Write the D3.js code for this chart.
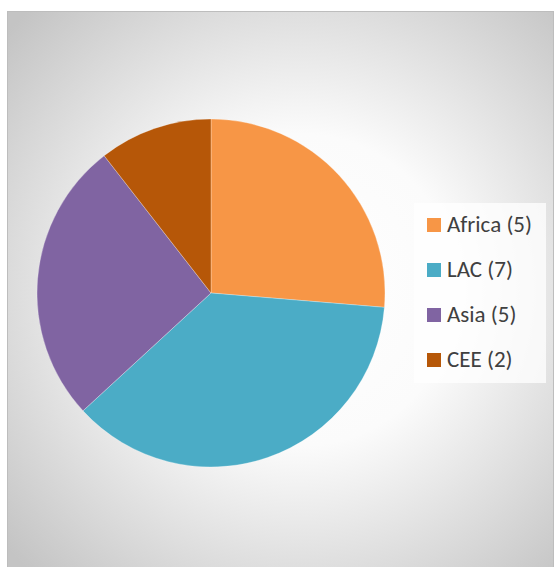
<!DOCTYPE html>
<html>
<head>
<meta charset="utf-8">
<script src="https://cdn.jsdelivr.net/npm/d3@7.9.0/dist/d3.min.js"></script>
<style>
  body { margin: 0; background: #fff; }
  svg { display: block; }
</style>
</head>
<body>
<svg width="555" height="567"></svg>
<script>
// data
const regions = ['Africa', 'LAC', 'Asia', 'CEE'];
const counts = [5, 7, 5, 2];
const colors = ['#F79646', '#4BACC6', '#8064A2', '#B65708'];

const svg = d3.select('svg');
const defs = svg.append('defs');

// background gradient: white near the pie, grey to the corners
const bg = defs.append('radialGradient')
  .attr('id', 'bg')
  .attr('gradientUnits', 'userSpaceOnUse')
  .attr('cx', 300).attr('cy', 290).attr('r', 390);
bg.append('stop').attr('offset', '0%').attr('stop-color', '#ffffff');
bg.append('stop').attr('offset', '40%').attr('stop-color', '#fbfbfb');
bg.append('stop').attr('offset', '100%').attr('stop-color', '#c4c4c4');

svg.append('rect')
  .attr('x', 7.5).attr('y', 11.5)
  .attr('width', 546).attr('height', 560)
  .attr('fill', 'url(#bg)')
  .attr('stroke', '#bdbdbd');

// pie
const cx = 211, cy = 293, radius = 174;
const pie = d3.pie().sort(null).value(d => d.value);
const arc = d3.arc().innerRadius(0).outerRadius(radius);
const data = regions.map((r, i) => ({ label: r, value: counts[i], color: colors[i] }));

const g = svg.append('g').attr('transform', `translate(${cx},${cy})`);
g.selectAll('path')
  .data(pie(data))
  .join('path')
  .attr('d', arc)
  .attr('fill', d => d.data.color)
  .attr('stroke', '#ffffff')
  .attr('stroke-opacity', 0.35)
  .attr('stroke-width', 0.8);

// legend
const legend = svg.append('g').attr('transform', 'translate(414,203)');
legend.append('rect')
  .attr('width', 132).attr('height', 180)
  .attr('fill', '#ffffff').attr('fill-opacity', 0.75);

const rows = legend.selectAll('g.row')
  .data(data)
  .join('g')
  .attr('class', 'row')
  .attr('transform', (d, i) => `translate(13,${22 + i * 45})`);
rows.append('rect')
  .attr('y', -7).attr('width', 14).attr('height', 14)
  .attr('fill', d => d.color);
rows.append('text')
  .attr('x', 20).attr('y', 7)
  .attr('font-family', 'Carlito, Calibri, "Open Sans", sans-serif')
  .attr('font-size', 23)
  .attr('fill', '#404040')
  .text(d => `${d.label} (${d.value})`);
</script>
</body>
</html>
